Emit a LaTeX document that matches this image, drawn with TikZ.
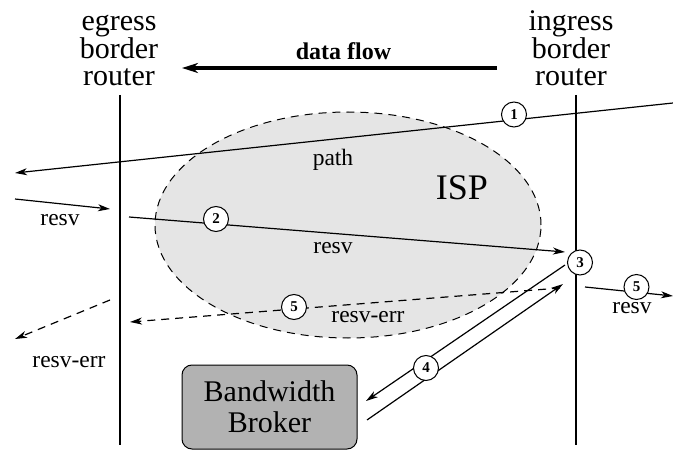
\documentclass[tikz,border=0pt]{standalone}
\usepackage{fontspec}
\setmainfont{Liberation Serif}
\usetikzlibrary{arrows.meta,shapes.geometric,backgrounds}
\begin{document}
\begin{tikzpicture}[x=1pt,y=-1pt,
  router/.style={font=\fontsize{30}{26.5}\selectfont, align=center, inner sep=0pt},
  lbl/.style={font=\fontsize{23.5}{28}\selectfont, inner sep=0pt, anchor=base},
  stepnum/.style={circle, draw, fill=white, minimum size=25pt, inner sep=0pt,
    line width=1pt, font=\fontsize{15}{15}\selectfont\bfseries},
  wire/.style={line width=1.3pt},
  msg/.style={line width=1.2pt, -{Stealth[length=12pt,width=7pt,inset=3.5pt]}},
  errmsg/.style={msg, dash pattern=on 8pt off 6pt},
  ispzone/.style={ellipse, draw, dash pattern=on 8pt off 6pt, line width=1pt, fill=black!10,
    minimum width=386pt, minimum height=226pt, inner sep=0pt},
  broker/.style={draw, line width=1pt, rounded corners=10pt, fill=black!30,
    minimum width=175pt, minimum height=84pt, align=center,
    font=\fontsize{30}{31}\selectfont}]
\useasboundingbox (0,0) rectangle (673,452);

% routers (base anchor sits on the last line) and their lines
\node[router, anchor=base] (egress) at (119,85) {egress\\border\\router};
\node[router, anchor=base] (ingress) at (571,85) {ingress\\border\\router};
\coordinate (eg top) at (120,95);  \coordinate (eg bot) at (120,445);
\coordinate (in top) at (576,95);  \coordinate (in bot) at (576,445);

% data flow
\node[font=\fontsize{24}{24}\selectfont\bfseries, inner sep=0pt, anchor=base] (flow) at (343.5,60) {data flow};
\coordinate (flow from) at (497,68);
\coordinate (flow to) at (182,68);

% ISP label
\node[font=\fontsize{36}{36}\selectfont, inner sep=0pt, anchor=base] (isplabel) at (462,200) {ISP};

% step markers
\node[stepnum] (s1) at (514,114.5) {1};
\node[stepnum] (s2) at (216,219) {2};
\node[stepnum] (s3) at (580,262.5) {3};
\node[stepnum] (s4) at (426,368) {4};
\node[stepnum] (s5a) at (294,307) {5};
\node[stepnum] (s5b) at (636.5,287) {5};

% bandwidth broker
\node[broker] (bb) at (269.5,407) {Bandwidth\\Broker};

% message end points
\coordinate (path in) at (673,103);   \coordinate (path out) at (15,173);
\coordinate (rl in) at (15,199);      \coordinate (rl out) at (110,209);
\coordinate (r2 in) at (129,217);     \coordinate (r2 out) at (565,252);
\coordinate (q in) at (565,265);      \coordinate (q out) at (366,401);
\coordinate (a in) at (367,420);      \coordinate (a out) at (563,284);
\coordinate (e in) at (560,288);      \coordinate (e out) at (130,322);
\coordinate (el in) at (110,300);     \coordinate (el out) at (15,339);
\coordinate (rr in) at (585,287);     \coordinate (rr out) at (673,296);

% labels
\node[lbl] (pathlbl) at (333,165) {path};
\node[lbl] (resvl) at (60,225) {resv};
\node[lbl] (resvm) at (333,253) {resv};
\node[lbl] (errm) at (368,322) {resv-err};
\node[lbl] (errl) at (69,367) {resv-err};
\node[lbl] (resvr) at (632,313) {resv};

\begin{scope}[on background layer]
  % ISP domain
  \node[ispzone] (isp) at (348,225) {};
  \draw[wire] (eg top) -- (eg bot);
  \draw[wire] (in top) -- (in bot);
  \draw[line width=3.5pt, -{Stealth[length=16pt,width=10pt,inset=5pt]}] (flow from) -- (flow to);
  \draw[msg] (path in) -- (path out);
  \draw[msg] (rl in) -- (rl out);
  \draw[msg] (r2 in) -- (r2 out);
  \draw[msg] (q in) -- (q out);
  \draw[msg] (a in) -- (a out);
  \draw[errmsg] (e in) -- (e out);
  \draw[errmsg] (el in) -- (el out);
  \draw[msg] (rr in) -- (rr out);
\end{scope}
\end{tikzpicture}
\end{document}
